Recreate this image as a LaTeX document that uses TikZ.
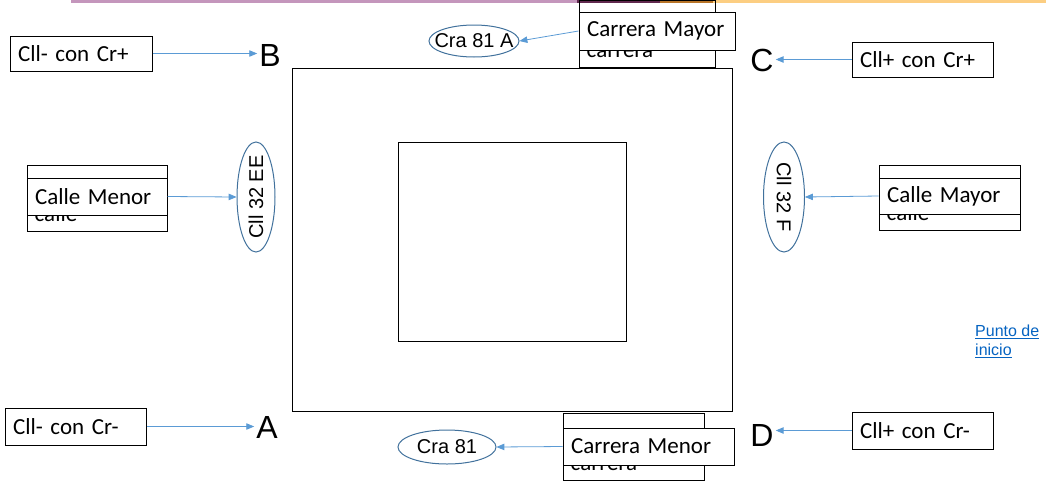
\documentclass[tikz,border=0pt]{standalone}
\usepackage{fontspec}
\setmainfont{Carlito}
\newfontfamily\arialfont{Liberation Sans}
\usepackage{tikz}
\usetikzlibrary{shapes.geometric, arrows}
\definecolor{arrowblue}{RGB}{91,155,213}
\definecolor{ellblue}{RGB}{65,113,156}
\definecolor{linkblue}{RGB}{5,99,193}
\definecolor{bandpink}{RGB}{196,150,188}
\definecolor{bandplum}{RGB}{96,40,78}
\definecolor{bandbrown}{RGB}{184,116,40}
\definecolor{bandorange}{RGB}{252,206,130}

\begin{document}
\begin{tikzpicture}[x=1pt, y=-1pt, font=\fontsize{23}{27}\selectfont]
		\tikzstyle{corner} = [rectangle, draw=black, line width=1pt, minimum height=35pt, text width=125pt, inner xsep=8pt, inner ysep=0pt, align=left]
		
		\tikzstyle{letter} = [inner sep=2pt, font=\arialfont\fontsize{32}{32}\selectfont]
		
		\tikzstyle{street} = [ellipse, draw=ellblue, line width=1pt, inner sep=0pt]
		\tikzstyle{streetname} = [inner sep=0pt, font=\arialfont\fontsize{20}{20}\selectfont]
		
		\tikzstyle{back} = [rectangle, draw=black, line width=1pt, inner sep=0pt]
		\tikzstyle{backname} = [anchor=base west, inner sep=0pt, xshift=8pt, yshift=10pt]
		
		\tikzstyle{front} = [rectangle, draw=black, fill=white, line width=1pt, inner xsep=8pt, inner ysep=0pt, align=left]
		
		\tikzstyle{arrow} = [->,>= triangle 45, draw=arrowblue, line width=0.8pt]
		%-------------------------------------------------------
		\useasboundingbox (0,0) rectangle (1046,480);
		
		% band at the top
		\draw [bandpink, line width=3pt] (71,1.5) -- (577,1.5);
		\draw [bandplum, line width=3pt] (577,1.5) -- (660,1.5);
		\draw [bandbrown, line width=3pt] (660,1.5) -- (713,1.5);
		\draw [bandorange, line width=3pt] (713,1.5) -- (1046,1.5);
		
		% the block
		\draw [line width=1pt] (292,68) rectangle (732,411);
		\draw [line width=1pt] (398,142) rectangle (626,341);
		
		% corners
		\node (n1) [corner, text width=126pt] at (81,53.5) {Cll- con Cr+};
		\node (n2) [corner] at (922.5,59.5) {Cll+ con Cr+};
		\node (n3) [corner, minimum height=37pt] at (75.5,426.5) {Cll- con Cr-};
		\node (n4) [corner, minimum height=37pt] at (922.5,430.5) {Cll+ con Cr-};
		
		\node (B) [letter] at (270,55) {B};
		\node (C) [letter] at (762,60) {C};
		\node (A) [letter] at (267,427) {A};
		\node (D) [letter] at (762,435) {D};
		
		\draw [arrow] (n1.east) -- (B.west |- n1.east);
		\draw [arrow] (n2.west) -- (C.east |- n2.west);
		\draw [arrow] (n3.east) -- (A.west |- n3.east);
		\draw [arrow] (n4.west) -- (D.east |- n4.west);
		
		% streets
		\node (e1) [street, minimum width=90pt, minimum height=32pt, label={[streetname]center:Cra 81 A}] at (474,41) {};
		\node (e2) [street, minimum width=38pt, minimum height=110pt, label={[streetname, rotate=90]center:Cll 32 EE}] at (256,197) {};
		\node (e3) [street, minimum width=41pt, minimum height=110pt, label={[streetname, rotate=-90]center:Cll 32 F}] at (784,197) {};
		\node (e4) [street, minimum width=98pt, minimum height=34pt, label={[streetname]center:Cra 81}] at (447,447) {};
		
		% boxes behind
		\node (b1) [back, minimum width=136pt, minimum height=67pt, label={[backname]south west:carrera}] at (647,33.5) {};
		\node (b2) [back, minimum width=140pt, minimum height=66pt, label={[backname]south west:calle}] at (97,198) {};
		\node (b3) [back, minimum width=141pt, minimum height=65pt, label={[backname]south west:calle}] at (949.5,197.5) {};
		\node (b4) [back, minimum width=141pt, minimum height=67pt, label={[backname]south west:carrera}] at (633.5,446.5) {};
		
		% boxes in front
		\node (f1) [front, text width=140pt, minimum height=38pt] at (657,31) {Carrera Mayor};
		\node (f2) [front, text width=124pt, minimum height=37pt] at (97,196.5) {Calle Menor};
		\node (f3) [front, text width=125pt, minimum height=36pt] at (949.5,196) {Calle Mayor};
		\node (f4) [front, text width=155pt, minimum height=37pt] at (648.5,446.5) {Carrera Menor};
		
		\draw [arrow] (f1.west) -- (e1.east);
		\draw [arrow] (f2.east) -- (e2.west);
		\draw [arrow] (f3.west) -- (e3.east);
		\draw [arrow] (f4.west) -- (e4.east);
		
		\node (start) [anchor=west, inner sep=0pt, align=left, text=linkblue, font=\arialfont\fontsize{16}{19}\selectfont] at (975,341) {\underline{Punto de}\\\underline{inicio}};
\end{tikzpicture}
\end{document}
